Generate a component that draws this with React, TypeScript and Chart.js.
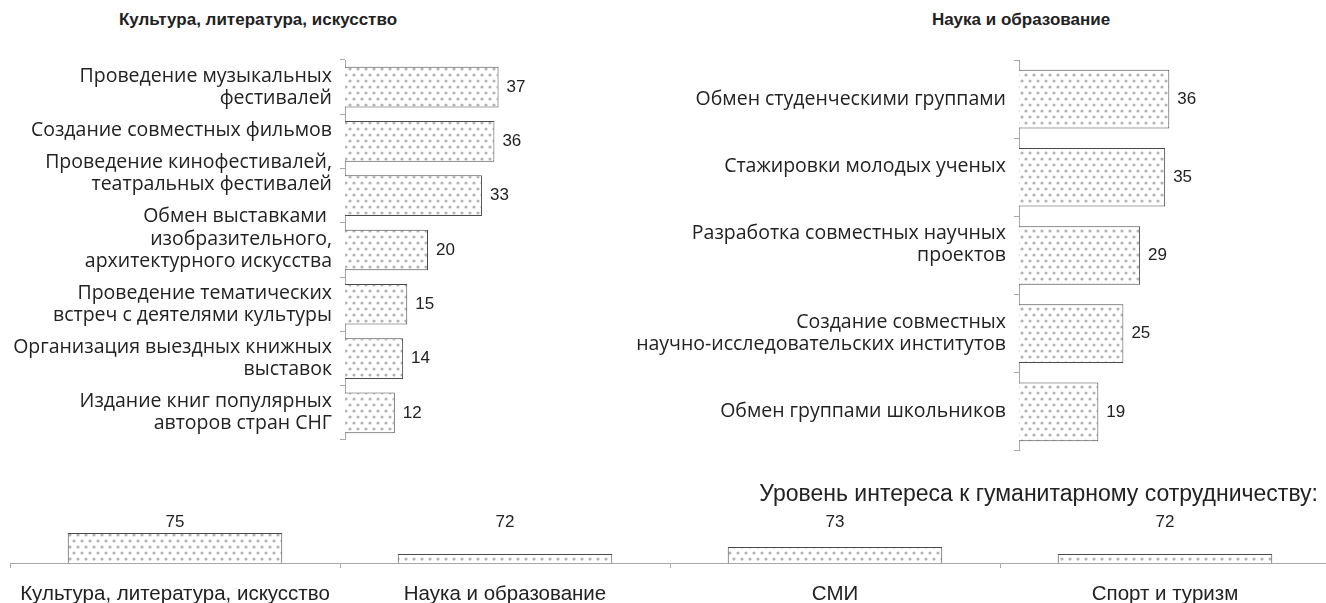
import React, { useEffect, useRef } from 'react';
import { Chart, registerables } from 'chart.js';
Chart.register(...registerables);

const cultureLabels: (string | string[])[] = [
  ['Проведение музыкальных', 'фестивалей'],
  ['Создание совместных фильмов', ''],
  ['Проведение кинофестивалей,', 'театральных фестивалей', '', ''],
  ['Обмен выставками ', 'изобразительного,', 'архитектурного искусства', ''],
  ['Проведение тематических', 'встреч с деятелями культуры'],
  ['Организация выездных книжных', 'выставок'],
  ['Издание книг популярных', 'авторов стран СНГ'],
];
const cultureValues = [37, 36, 33, 20, 15, 14, 12];

const scienceLabels: (string | string[])[] = [
  'Обмен студенческими группами',
  ['Стажировки молодых ученых', ''],
  ['Разработка совместных научных', 'проектов', ''],
  ['Создание совместных', 'научно-исследовательских институтов'],
  'Обмен группами школьников',
];
const scienceValues = [36, 35, 29, 25, 19];

const interestLabels = ['Культура, литература, искусство', 'Наука и образование', 'СМИ', 'Спорт и туризм'];
const interestValues = [75, 72, 73, 72];

const AXIS = '#a8a8a8';
const TEXT = '#222222';
const BORDER = '#4a4a4a';

function makePattern(): CanvasPattern | string {
  const c = document.createElement('canvas');
  c.width = 8;
  c.height = 12;
  const ctx = c.getContext('2d');
  if (!ctx) return '#eee';
  ctx.fillStyle = '#ffffff';
  ctx.fillRect(0, 0, 8, 12);
  ctx.fillStyle = '#b4b4b4';
  const dots = [[2, 3], [6, 9]];
  for (const [x, y] of dots) {
    ctx.beginPath();
    ctx.arc(x, y, 1.6, 0, Math.PI * 2);
    ctx.fill();
  }
  return ctx.createPattern(c, 'repeat') || '#eee';
}

const valueLabelPlugin = {
  id: 'valueLabels',
  afterDatasetsDraw(chart: any, _args: any, opts: any) {
    const ctx = chart.ctx;
    const meta = chart.getDatasetMeta(0);
    const data = chart.data.datasets[0].data;
    ctx.save();
    ctx.fillStyle = TEXT;
    ctx.font = '17px "Liberation Sans", Arial, sans-serif';
    meta.data.forEach((el: any, i: number) => {
      if (opts.mode === 'top') {
        ctx.textAlign = 'center';
        ctx.textBaseline = 'middle';
        ctx.fillText(String(data[i]), el.x, chart.chartArea.top - 11);
      } else {
        ctx.textAlign = 'left';
        ctx.textBaseline = 'middle';
        ctx.fillText(String(data[i]), el.x + 8, el.y);
      }
    });
    ctx.restore();
  },
};

function HBar(props: { labels: (string | string[])[]; values: number[]; axisWidth: number; padRight: number; width: number; height: number; left: number }) {
  const ref = useRef<HTMLCanvasElement>(null);
  useEffect(() => {
    if (!ref.current) return;
    const chart = new Chart(ref.current, {
      type: 'bar',
      data: {
        labels: props.labels as any,
        datasets: [{
          data: props.values,
          backgroundColor: makePattern() as any,
          borderColor: BORDER,
          borderWidth: 1,
          barPercentage: 0.75,
          categoryPercentage: 1,
        }],
      },
      options: {
        indexAxis: 'y',
        responsive: false,
        animation: false,
        layout: { padding: { top: 60, bottom: 10, left: 0, right: props.padRight } },
        plugins: {
          legend: { display: false },
          tooltip: { enabled: false },
          valueLabels: { mode: 'side' },
        } as any,
        scales: {
          x: { display: false, min: 0, max: 40 },
          y: {
            offset: true,
            grid: { offset: true, drawOnChartArea: false, drawTicks: true, tickLength: 5, color: AXIS },
            border: { display: true, color: AXIS, width: 1 },
            ticks: { color: TEXT, font: { family: '"Open Sans", sans-serif', size: 19.5, lineHeight: 1.13 }, padding: 8, autoSkip: false },
            afterFit: (s: any) => { s.width = props.axisWidth; },
          } as any,
        },
      },
      plugins: [valueLabelPlugin],
    });
    return () => chart.destroy();
  }, []);
  return <canvas ref={ref} width={props.width} height={props.height} style={{ position: 'absolute', left: props.left, top: 0, width: props.width, height: props.height }} />;
}

function Interest() {
  const ref = useRef<HTMLCanvasElement>(null);
  useEffect(() => {
    if (!ref.current) return;
    const chart = new Chart(ref.current, {
      type: 'bar',
      data: {
        labels: interestLabels,
        datasets: [{
          data: interestValues,
          backgroundColor: makePattern() as any,
          borderColor: BORDER,
          borderWidth: 1,
          barPercentage: 0.65,
          categoryPercentage: 1,
        }],
      },
      options: {
        responsive: false,
        animation: false,
        layout: { padding: { top: 43, bottom: 0, left: 10, right: 10 } },
        plugins: {
          legend: { display: false },
          tooltip: { enabled: false },
          valueLabels: { mode: 'top' },
        } as any,
        scales: {
          y: { display: false, min: 70.7, max: 75 },
          x: {
            offset: true,
            grid: { offset: true, drawOnChartArea: false, drawTicks: true, tickLength: 5, color: AXIS },
            border: { display: true, color: AXIS, width: 1 },
            ticks: { color: TEXT, font: { family: '"Liberation Sans", Arial, sans-serif', size: 20.5 }, padding: 14, autoSkip: false, maxRotation: 0 },
            afterFit: (s: any) => { s.height = 40; },
          } as any,
        },
      },
      plugins: [valueLabelPlugin],
    });
    return () => chart.destroy();
  }, []);
  return <canvas ref={ref} width={1340} height={113} style={{ position: 'absolute', left: 0, top: 490, width: 1340, height: 113 }} />;
}

const titleStyle: React.CSSProperties = {
  position: 'absolute',
  fontFamily: '"Liberation Sans", Arial, sans-serif',
  fontWeight: 'bold',
  fontSize: 17,
  color: TEXT,
  whiteSpace: 'nowrap',
  transform: 'translate(-50%, -50%)',
};

export default function App() {
  return (
    <div style={{ position: 'fixed', left: 0, top: 0, width: 1326, height: 603, overflow: 'hidden', background: '#fff' }}>
      <div style={{ ...titleStyle, left: 258, top: 20 }}>Культура, литература, искусство</div>
      <div style={{ ...titleStyle, left: 1021, top: 20 }}>Наука и образование</div>
      <HBar labels={cultureLabels} values={cultureValues} axisWidth={345} padRight={29} width={540} height={470} left={0} />
      <HBar labels={scienceLabels} values={scienceValues} axisWidth={459} padRight={140} width={766} height={470} left={560} />
      <Interest />
      <div style={{ position: 'absolute', right: 8, top: 480, fontFamily: '"Liberation Sans", Arial, sans-serif', fontSize: 23, color: TEXT, whiteSpace: 'nowrap' }}>
        Уровень интереса к гуманитарному сотрудничеству:
      </div>
    </div>
  );
}
